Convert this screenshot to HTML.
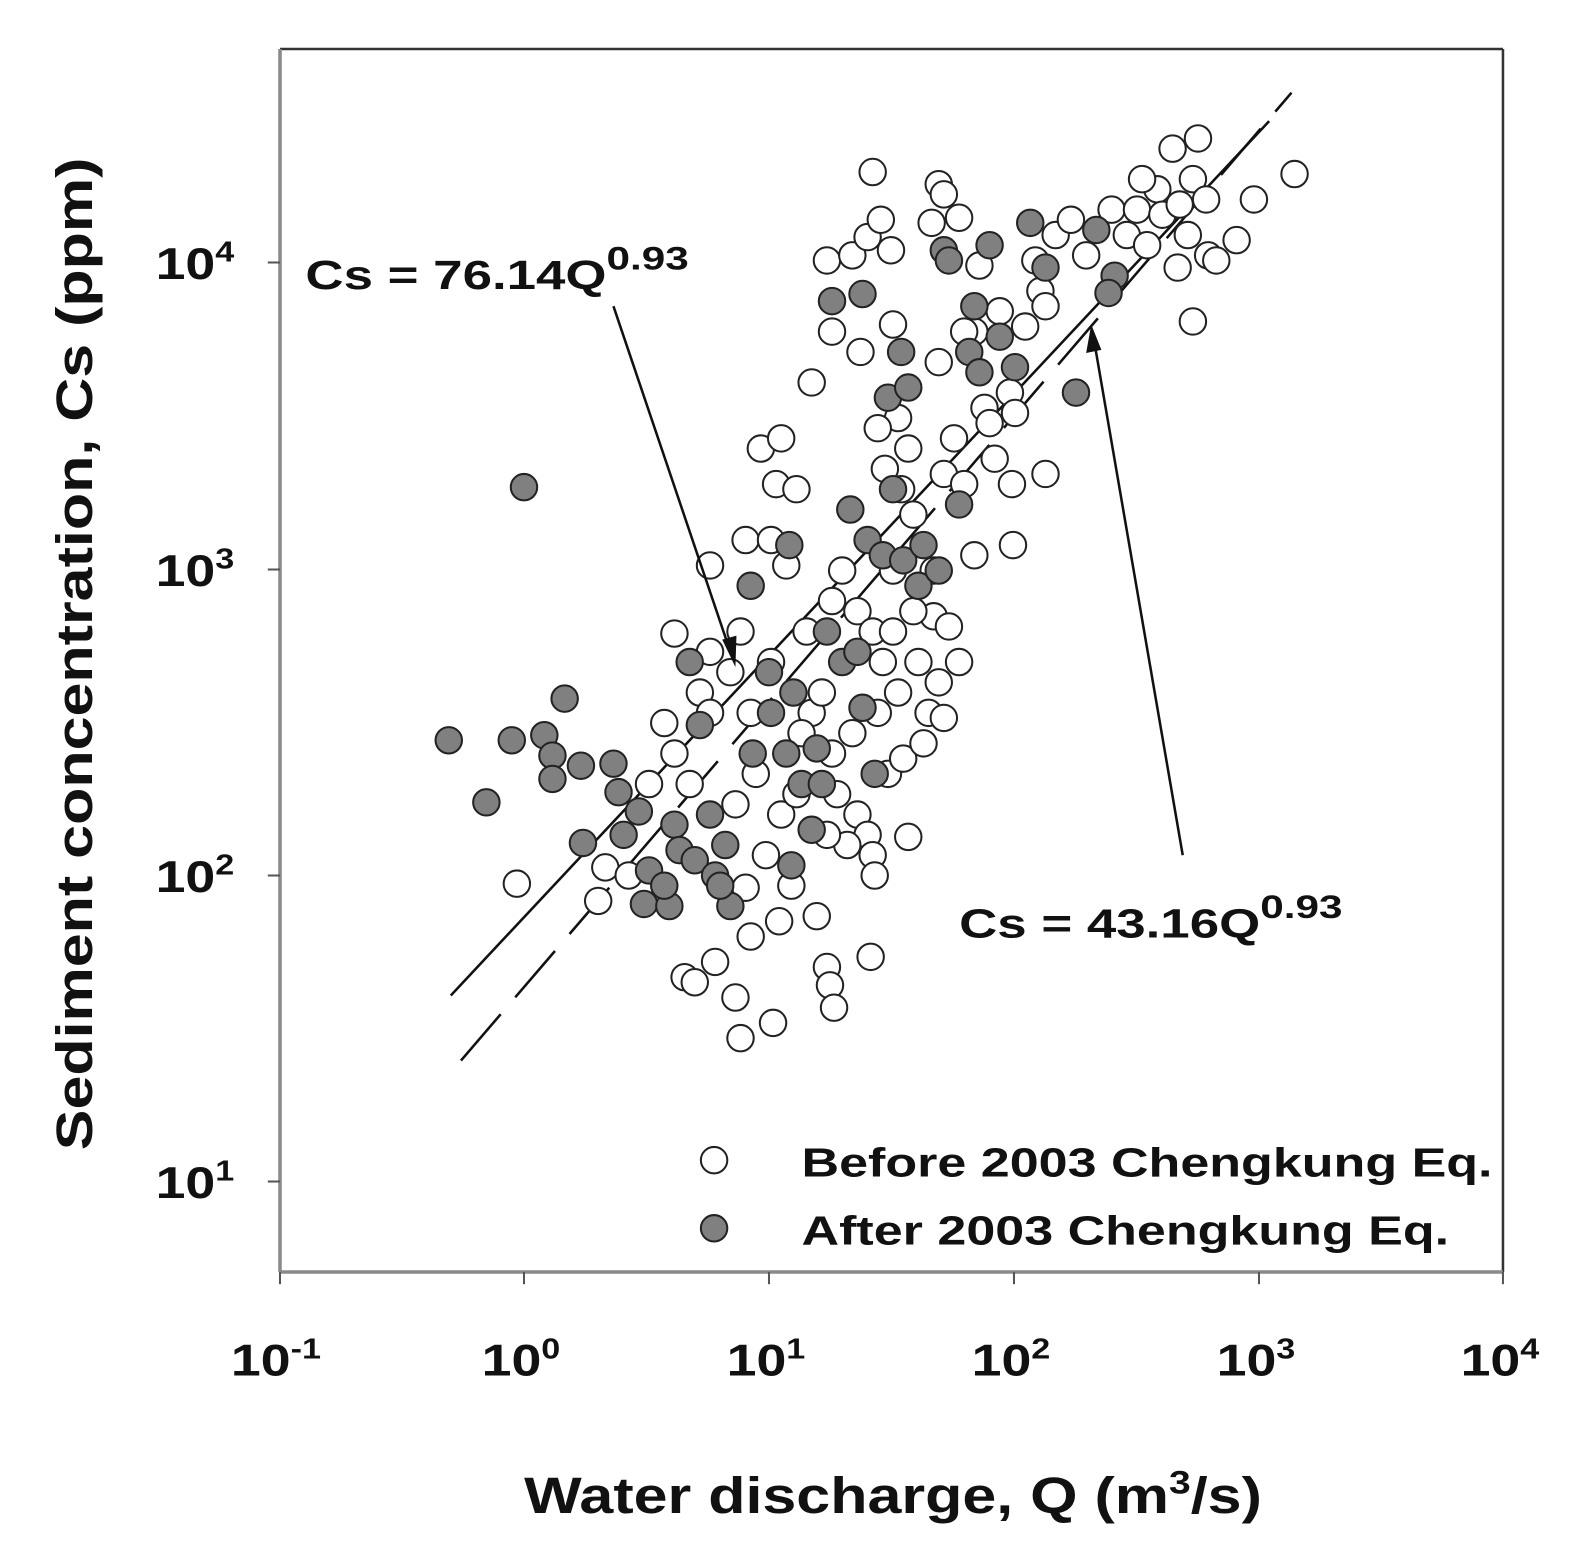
<!DOCTYPE html>
<html><head><meta charset="utf-8"><style>
html,body{margin:0;padding:0;background:#fff;}
svg{display:block;}
text{font-family:"Liberation Sans",Arial,sans-serif;font-weight:bold;fill:#111;}
</style></head><body>
<svg width="1593" height="1554" viewBox="1.57 -1.2 1567 1528.6" preserveAspectRatio="none" xmlns="http://www.w3.org/2000/svg">
<rect x="-10" y="-10" width="1600" height="1560" fill="#fff"/>
<line x1="277" y1="47" x2="1480" y2="47" stroke="#333" stroke-width="2.5"/>
<line x1="1480" y1="47" x2="1480" y2="1250" stroke="#333" stroke-width="2.5"/>
<line x1="277" y1="47" x2="277" y2="1250" stroke="#8a8a8a" stroke-width="3.5"/>
<line x1="277" y1="1250" x2="1480" y2="1250" stroke="#8a8a8a" stroke-width="3.5"/>
<g stroke="#555" stroke-width="2">
<line x1="277" y1="1250" x2="277" y2="1262"/><line x1="517" y1="1250" x2="517" y2="1262"/>
<line x1="758" y1="1250" x2="758" y2="1262"/><line x1="999" y1="1250" x2="999" y2="1262"/>
<line x1="1240" y1="1250" x2="1240" y2="1262"/><line x1="1480" y1="1250" x2="1480" y2="1262"/>
<line x1="265" y1="257" x2="277" y2="257"/><line x1="265" y1="559" x2="277" y2="559"/>
<line x1="265" y1="860" x2="277" y2="860"/><line x1="265" y1="1161" x2="277" y2="1161"/>
</g>
<g font-size="44" text-anchor="middle">
<text transform="translate(273,1352) scale(1.2,1)">10<tspan font-size="28" dy="-17">-1</tspan></text>
<text transform="translate(514,1352) scale(1.2,1)">10<tspan font-size="28" dy="-17">0</tspan></text>
<text transform="translate(755,1352) scale(1.2,1)">10<tspan font-size="28" dy="-17">1</tspan></text>
<text transform="translate(996,1352) scale(1.2,1)">10<tspan font-size="28" dy="-17">2</tspan></text>
<text transform="translate(1237,1352) scale(1.2,1)">10<tspan font-size="28" dy="-17">3</tspan></text>
<text transform="translate(1477,1352) scale(1.2,1)">10<tspan font-size="28" dy="-17">4</tspan></text>
</g>
<g font-size="44" text-anchor="end">
<text transform="translate(232,273) scale(1.2,1)">10<tspan font-size="28" dy="-17">4</tspan></text>
<text transform="translate(232,575) scale(1.2,1)">10<tspan font-size="28" dy="-17">3</tspan></text>
<text transform="translate(232,876) scale(1.2,1)">10<tspan font-size="28" dy="-17">2</tspan></text>
<text transform="translate(232,1177) scale(1.2,1)">10<tspan font-size="28" dy="-17">1</tspan></text>
</g>
<text transform="translate(880,1487) scale(1.2,1)" font-size="50" text-anchor="middle">Water discharge, Q (m<tspan font-size="32" dy="-19">3</tspan><tspan dy="19">/s)</tspan></text>
<text transform="translate(92,642) rotate(-90) scale(1.2,1)" font-size="50" text-anchor="middle">Sediment concentration, Cs (ppm)</text>
<line x1="445" y1="978" x2="1250" y2="118" stroke="#111" stroke-width="2.5"/>
<line x1="455" y1="1042" x2="1272" y2="90" stroke="#111" stroke-width="2.5" stroke-dasharray="60,22"/>
<g fill="#fff" stroke="#222" stroke-width="2">
<circle cx="510" cy="868" r="13"/><circle cx="590" cy="885" r="13"/><circle cx="597" cy="852" r="13"/><circle cx="665" cy="622" r="13"/><circle cx="700" cy="555" r="13"/><circle cx="735" cy="530" r="13"/><circle cx="730" cy="620" r="13"/><circle cx="690" cy="680" r="13"/><circle cx="700" cy="640" r="13"/><circle cx="720" cy="660" r="13"/><circle cx="740" cy="700" r="13"/><circle cx="750" cy="440" r="13"/><circle cx="770" cy="430" r="13"/><circle cx="765" cy="475" r="13"/><circle cx="785" cy="480" r="13"/><circle cx="760" cy="530" r="13"/><circle cx="775" cy="555" r="13"/><circle cx="655" cy="710" r="13"/><circle cx="665" cy="740" r="13"/><circle cx="680" cy="770" r="13"/><circle cx="675" cy="960" r="13"/><circle cx="685" cy="965" r="13"/><circle cx="705" cy="945" r="13"/><circle cx="725" cy="980" r="13"/><circle cx="730" cy="1020" r="13"/><circle cx="762" cy="1005" r="13"/><circle cx="768" cy="905" r="13"/><circle cx="740" cy="920" r="13"/><circle cx="735" cy="872" r="13"/><circle cx="755" cy="840" r="13"/><circle cx="770" cy="800" r="13"/><circle cx="785" cy="780" r="13"/><circle cx="745" cy="760" r="13"/><circle cx="725" cy="790" r="13"/><circle cx="800" cy="700" r="13"/><circle cx="810" cy="680" r="13"/><circle cx="795" cy="620" r="13"/><circle cx="820" cy="590" r="13"/><circle cx="830" cy="560" r="13"/><circle cx="845" cy="600" r="13"/><circle cx="860" cy="620" r="13"/><circle cx="870" cy="650" r="13"/><circle cx="880" cy="620" r="13"/><circle cx="885" cy="680" r="13"/><circle cx="865" cy="700" r="13"/><circle cx="840" cy="720" r="13"/><circle cx="820" cy="740" r="13"/><circle cx="825" cy="780" r="13"/><circle cx="845" cy="800" r="13"/><circle cx="855" cy="820" r="13"/><circle cx="860" cy="840" r="13"/><circle cx="835" cy="830" r="13"/><circle cx="815" cy="820" r="13"/><circle cx="815" cy="950" r="13"/><circle cx="818" cy="968" r="13"/><circle cx="822" cy="990" r="13"/><circle cx="858" cy="940" r="13"/><circle cx="862" cy="860" r="13"/><circle cx="875" cy="760" r="13"/><circle cx="890" cy="745" r="13"/><circle cx="895" cy="822" r="13"/><circle cx="905" cy="650" r="13"/><circle cx="915" cy="700" r="13"/><circle cx="920" cy="605" r="13"/><circle cx="935" cy="615" r="13"/><circle cx="945" cy="650" r="13"/><circle cx="925" cy="670" r="13"/><circle cx="930" cy="705" r="13"/><circle cx="910" cy="730" r="13"/><circle cx="800" cy="375" r="13"/><circle cx="815" cy="255" r="13"/><circle cx="820" cy="325" r="13"/><circle cx="840" cy="250" r="13"/><circle cx="848" cy="345" r="13"/><circle cx="855" cy="232" r="13"/><circle cx="860" cy="168" r="13"/><circle cx="868" cy="215" r="13"/><circle cx="878" cy="245" r="13"/><circle cx="880" cy="318" r="13"/><circle cx="885" cy="410" r="13"/><circle cx="895" cy="440" r="13"/><circle cx="865" cy="420" r="13"/><circle cx="872" cy="460" r="13"/><circle cx="888" cy="480" r="13"/><circle cx="900" cy="505" r="13"/><circle cx="918" cy="218" r="13"/><circle cx="925" cy="180" r="13"/><circle cx="930" cy="190" r="13"/><circle cx="945" cy="213" r="13"/><circle cx="925" cy="355" r="13"/><circle cx="940" cy="430" r="13"/><circle cx="930" cy="465" r="13"/><circle cx="950" cy="475" r="13"/><circle cx="960" cy="545" r="13"/><circle cx="960" cy="325" r="13"/><circle cx="970" cy="400" r="13"/><circle cx="980" cy="450" r="13"/><circle cx="997" cy="475" r="13"/><circle cx="995" cy="385" r="13"/><circle cx="998" cy="535" r="13"/><circle cx="1010" cy="320" r="13"/><circle cx="1020" cy="255" r="13"/><circle cx="1025" cy="285" r="13"/><circle cx="1030" cy="300" r="13"/><circle cx="1030" cy="465" r="13"/><circle cx="1000" cy="405" r="13"/><circle cx="1040" cy="230" r="13"/><circle cx="1055" cy="215" r="13"/><circle cx="1070" cy="250" r="13"/><circle cx="1095" cy="205" r="13"/><circle cx="1110" cy="230" r="13"/><circle cx="1120" cy="205" r="13"/><circle cx="1130" cy="240" r="13"/><circle cx="1140" cy="185" r="13"/><circle cx="1145" cy="210" r="13"/><circle cx="1155" cy="145" r="13"/><circle cx="1162" cy="200" r="13"/><circle cx="1170" cy="230" r="13"/><circle cx="1175" cy="175" r="13"/><circle cx="1180" cy="135" r="13"/><circle cx="1188" cy="195" r="13"/><circle cx="1160" cy="262" r="13"/><circle cx="1175" cy="315" r="13"/><circle cx="1190" cy="250" r="13"/><circle cx="1198" cy="255" r="13"/><circle cx="1218" cy="235" r="13"/><circle cx="1235" cy="195" r="13"/><circle cx="1275" cy="170" r="13"/><circle cx="1125" cy="175" r="13"/><circle cx="950" cy="325" r="13"/><circle cx="965" cy="260" r="13"/><circle cx="975" cy="415" r="13"/><circle cx="985" cy="305" r="13"/><circle cx="620" cy="860" r="13"/><circle cx="640" cy="770" r="13"/><circle cx="700" cy="700" r="13"/><circle cx="760" cy="650" r="13"/><circle cx="790" cy="720" r="13"/><circle cx="805" cy="900" r="13"/><circle cx="780" cy="870" r="13"/><circle cx="880" cy="560" r="13"/><circle cx="900" cy="600" r="13"/><circle cx="920" cy="560" r="13"/>
</g>
<g fill="#808080" stroke="#222" stroke-width="2">
<circle cx="443" cy="727" r="13"/><circle cx="480" cy="788" r="13"/><circle cx="517" cy="478" r="13"/><circle cx="505" cy="727" r="13"/><circle cx="537" cy="722" r="13"/><circle cx="545" cy="742" r="13"/><circle cx="545" cy="765" r="13"/><circle cx="557" cy="686" r="13"/><circle cx="573" cy="752" r="13"/><circle cx="575" cy="828" r="13"/><circle cx="605" cy="750" r="13"/><circle cx="610" cy="778" r="13"/><circle cx="615" cy="820" r="13"/><circle cx="630" cy="797" r="13"/><circle cx="640" cy="855" r="13"/><circle cx="635" cy="888" r="13"/><circle cx="660" cy="890" r="13"/><circle cx="665" cy="810" r="13"/><circle cx="655" cy="870" r="13"/><circle cx="680" cy="650" r="13"/><circle cx="690" cy="712" r="13"/><circle cx="670" cy="835" r="13"/><circle cx="685" cy="845" r="13"/><circle cx="700" cy="800" r="13"/><circle cx="705" cy="860" r="13"/><circle cx="715" cy="830" r="13"/><circle cx="720" cy="890" r="13"/><circle cx="710" cy="870" r="13"/><circle cx="740" cy="575" r="13"/><circle cx="742" cy="740" r="13"/><circle cx="758" cy="660" r="13"/><circle cx="760" cy="700" r="13"/><circle cx="775" cy="740" r="13"/><circle cx="778" cy="535" r="13"/><circle cx="782" cy="680" r="13"/><circle cx="780" cy="850" r="13"/><circle cx="790" cy="770" r="13"/><circle cx="800" cy="815" r="13"/><circle cx="805" cy="735" r="13"/><circle cx="810" cy="770" r="13"/><circle cx="815" cy="620" r="13"/><circle cx="820" cy="295" r="13"/><circle cx="830" cy="650" r="13"/><circle cx="838" cy="500" r="13"/><circle cx="850" cy="288" r="13"/><circle cx="845" cy="640" r="13"/><circle cx="850" cy="695" r="13"/><circle cx="855" cy="530" r="13"/><circle cx="862" cy="760" r="13"/><circle cx="870" cy="545" r="13"/><circle cx="875" cy="390" r="13"/><circle cx="880" cy="480" r="13"/><circle cx="888" cy="345" r="13"/><circle cx="895" cy="380" r="13"/><circle cx="890" cy="550" r="13"/><circle cx="905" cy="575" r="13"/><circle cx="910" cy="535" r="13"/><circle cx="925" cy="560" r="13"/><circle cx="930" cy="245" r="13"/><circle cx="935" cy="255" r="13"/><circle cx="945" cy="495" r="13"/><circle cx="955" cy="345" r="13"/><circle cx="960" cy="300" r="13"/><circle cx="965" cy="365" r="13"/><circle cx="975" cy="240" r="13"/><circle cx="985" cy="330" r="13"/><circle cx="1000" cy="360" r="13"/><circle cx="1015" cy="218" r="13"/><circle cx="1030" cy="262" r="13"/><circle cx="1060" cy="385" r="13"/><circle cx="1080" cy="225" r="13"/><circle cx="1098" cy="270" r="13"/><circle cx="1092" cy="287" r="13"/>
</g>
<text transform="translate(302,283) scale(1.3,1)" font-size="40">Cs = 76.14Q<tspan font-size="32" dy="-19">0.93</tspan></text>
<text transform="translate(945,921) scale(1.3,1)" font-size="40">Cs = 43.16Q<tspan font-size="32" dy="-19">0.93</tspan></text>
<line x1="605" y1="300" x2="720" y2="640" stroke="#111" stroke-width="2.5"/>
<polygon points="725,655 712,628 726,624" fill="#111"/>
<line x1="1165" y1="840" x2="1078" y2="335" stroke="#111" stroke-width="2.5"/>
<polygon points="1075,318 1070,346 1085,343" fill="#111"/>
<circle cx="704" cy="1140" r="13" fill="#fff" stroke="#222" stroke-width="2"/>
<circle cx="704" cy="1207" r="13" fill="#808080" stroke="#222" stroke-width="2"/>
<text transform="translate(790,1156) scale(1.28,1)" font-size="40">Before 2003 Chengkung Eq.</text>
<text transform="translate(790,1223) scale(1.28,1)" font-size="40">After 2003 Chengkung Eq.</text>
</svg>
</body></html>
